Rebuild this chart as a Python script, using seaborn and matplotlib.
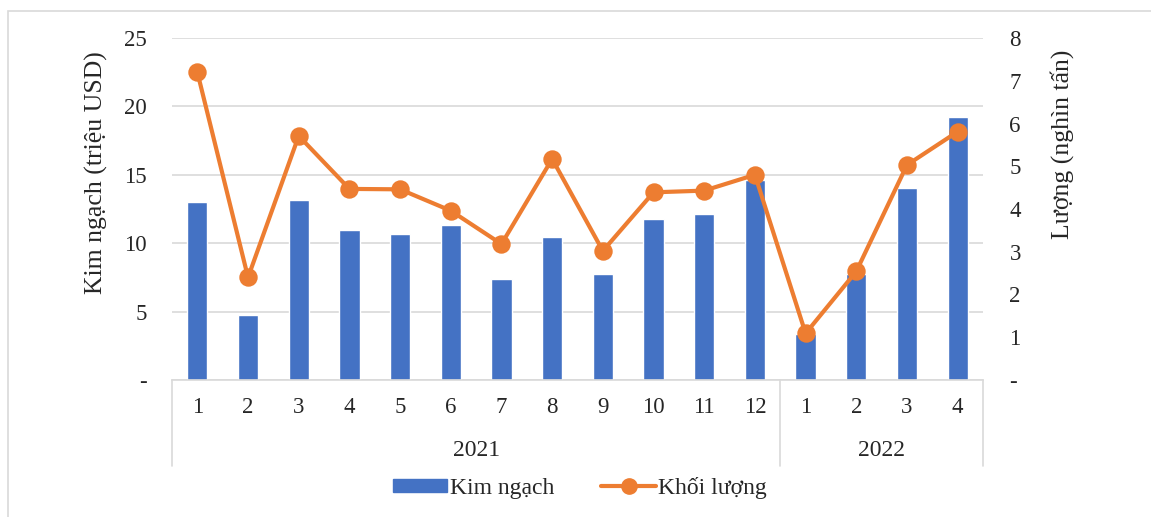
import numpy as np
import pandas as pd
import matplotlib
matplotlib.use("Agg")
import matplotlib.pyplot as plt
import seaborn as sns
from matplotlib.ticker import FuncFormatter, MultipleLocator
from matplotlib.patches import Rectangle, Patch
from matplotlib.lines import Line2D

# du lieu doc tu hinh
nam = ["2021", "2022"]
thang_2021 = ["1", "2", "3", "4", "5", "6", "7", "8", "9", "10", "11", "12"]
thang_2022 = ["1", "2", "3", "4"]
kim_ngach = [13.0, 4.75, 13.15, 11.0, 10.7, 11.3, 7.35, 10.45, 7.75,
             11.75, 12.15, 14.65, 3.35, 7.75, 14.0, 19.2]
khoi_luong = [7.2, 2.4, 5.71, 4.47, 4.46, 3.96, 3.18, 5.17, 3.02,
              4.39, 4.43, 4.8, 1.09, 2.54, 5.03, 5.81]

thang = thang_2021 + thang_2022
ky = [nam[0] + "-" + t for t in thang_2021] + [nam[1] + "-" + t for t in thang_2022]
df = pd.DataFrame({"ky": ky, "thang": thang, "kim_ngach": kim_ngach, "khoi_luong": khoi_luong})

sns.set_style("white")
plt.rcParams["font.family"] = ["Liberation Serif", "DejaVu Serif"]
plt.rcParams["font.size"] = 16

xanh = "#4472C4"
cam = "#ED7D31"
xam = "#d9d9d9"

fig = plt.figure(figsize=(11.51, 5.17), dpi=100)
ax = fig.add_axes([172/1151, 137/517, 811/1151, 342/517])
ax2 = ax.twinx()

sns.barplot(data=df, x="ky", y="kim_ngach", color=xanh, saturation=1, width=0.4, ax=ax)
sns.pointplot(data=df, x="ky", y="khoi_luong", color=cam, markers="o", errorbar=None,
              markersize=11, linewidth=3, ax=ax2)

ax.set_ylim(0, 25)
ax2.set_ylim(0, 8)
ax.yaxis.set_major_locator(MultipleLocator(5))
ax2.yaxis.set_major_locator(MultipleLocator(1))
fmt = FuncFormatter(lambda v, p: "-" if v == 0 else f"{v:g}")
ax.yaxis.set_major_formatter(fmt)
ax2.yaxis.set_major_formatter(fmt)

ax.set_axisbelow(True)
ax.yaxis.grid(True, color=xam, linewidth=1.2)
for a in (ax, ax2):
    for s in a.spines.values():
        s.set_visible(False)
ax.spines["bottom"].set_visible(True)
ax.spines["bottom"].set_color(xam)
ax.spines["bottom"].set_linewidth(1.2)

ax.tick_params(axis="y", length=0, pad=18, labelsize=16.5)
ax2.tick_params(axis="y", length=0, pad=19, labelsize=16.5)
ax.tick_params(axis="x", length=0, pad=12, labelsize=16.5)
ax.set_xticks(range(len(thang)))
ax.set_xticklabels(thang)
ax.set_xlabel("")
ax2.set_xlabel("")

ax.set_ylabel("Kim ngạch (triệu USD)", fontsize=18.5)
ax.yaxis.set_label_coords(-0.079, 0.605)
ax2.set_ylabel("Lượng (nghìn tấn)", fontsize=18.5, rotation=90)
ax2.yaxis.set_label_coords(1.083, 0.69)

# nhom nam duoi truc x
ranh_gioi = [-0.5, len(thang_2021) - 0.5, len(thang) - 0.5]
for xv in ranh_gioi:
    ax.plot([xv, xv], [0, -0.251], transform=ax.get_xaxis_transform(),
            color=xam, linewidth=1.2, clip_on=False)
ax.text((ranh_gioi[0] + ranh_gioi[1]) / 2, -0.205, nam[0], transform=ax.get_xaxis_transform(),
        ha="center", va="center", fontsize=17)
ax.text((ranh_gioi[1] + ranh_gioi[2]) / 2, -0.205, nam[1], transform=ax.get_xaxis_transform(),
        ha="center", va="center", fontsize=17)
ax.set_xlim(-0.5, len(thang) - 0.5)

handles = [Patch(color=xanh, label="Kim ngạch"),
           Line2D([0], [0], color=cam, linewidth=3, marker="o", markersize=11, label="Khối lượng")]
fig.legend(handles=handles, loc="center", bbox_to_anchor=(580/1151, 1 - 488/517), ncol=2,
           frameon=False, fontsize=17, handlelength=2.3, handleheight=0.5,
           handletextpad=0.1, columnspacing=2.0)

fig.add_artist(Rectangle((8/1151, -0.1), 1.5, 1.1 - 11/517, transform=fig.transFigure,
                         fill=False, edgecolor=xam, linewidth=1.2))

fig.savefig("out.png", dpi=100)
